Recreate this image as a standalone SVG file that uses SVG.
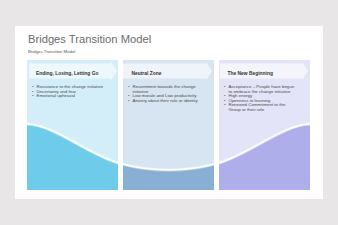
<svg xmlns="http://www.w3.org/2000/svg" width="338" height="225" viewBox="0 0 338 225">
<style>
  .title{font-family:"Liberation Sans",Arial,sans-serif;font-size:11.2px;fill:#6b6b6b}
  .sub{font-family:"Liberation Sans",Arial,sans-serif;font-size:4.3px;fill:#555}
  .hd{font-family:"Liberation Sans",Arial,sans-serif;font-size:4.9px;font-weight:bold;fill:#333}
  .bl{font-family:"Liberation Sans",Arial,sans-serif;font-size:4.4px;fill:#4a4a4a}
  .arrow{fill:#ffffff;fill-opacity:0.58}
</style>
<defs>
  <path id="wave" d="M27,124 C55,125 90,156 120,163.5 Q168.5,176.5 217,163.5 C247,156 282,125 310,124"/>
  <path id="waveFill" d="M27,124 C55,125 90,156 120,163.5 Q168.5,176.5 217,163.5 C247,156 282,125 310,124 L310,190 L27,190 Z"/>
  <clipPath id="c1"><rect x="27" y="60" width="91" height="130"/></clipPath>
  <clipPath id="c2"><rect x="123" y="60" width="91" height="130"/></clipPath>
  <clipPath id="c3"><rect x="219" y="60" width="91" height="130"/></clipPath>
</defs>
<rect width="338" height="225" fill="#e8e6e7"/>
<rect x="15" y="26" width="308" height="173" fill="#ffffff"/>
<text class="title" x="28" y="43.3">Bridges Transition Model</text>
<text class="sub" x="28" y="52.5">Bridges Transition Model</text>

<g id="panel1">
  <rect x="27" y="60" width="91" height="130" fill="#d3eef9"/>
  <use href="#waveFill" fill="#6ecbe9" clip-path="url(#c1)"/>
  <path class="arrow" d="M29,63.5 H111 V61.5 L117,71 L111,80.5 V78.5 H29 Z"/>
  <text class="hd" x="36" y="74.5">Ending, Losing, Letting Go</text>
  <text class="bl"><tspan x="32" y="88">•</tspan><tspan x="36.5" y="88">Resistance to the change initiative</tspan><tspan x="32" y="92.5">•</tspan><tspan x="36.5" y="92.5">Uncertainty and fear</tspan><tspan x="32" y="97">•</tspan><tspan x="36.5" y="97">Emotional upheaval</tspan></text>
</g>

<g id="panel2">
  <rect x="123" y="60" width="91" height="130" fill="#d7e4f1"/>
  <use href="#waveFill" fill="#89afd5" clip-path="url(#c2)"/>
  <path class="arrow" d="M123,63.5 H206 V61.5 L212,71 L206,80.5 V78.5 H123 Z"/>
  <text class="hd" x="131.5" y="74.5">Neutral Zone</text>
  <text class="bl"><tspan x="128" y="88">•</tspan><tspan x="132.5" y="88">Resentment towards the change</tspan><tspan x="132.5" y="92.5">initiative</tspan><tspan x="128" y="97">•</tspan><tspan x="132.5" y="97">Low morale and Low productivity</tspan><tspan x="128" y="101.5">•</tspan><tspan x="132.5" y="101.5">Anxiety about their role or identity</tspan></text>
</g>

<g id="panel3">
  <rect x="219" y="60" width="91" height="130" fill="#e4e4f8"/>
  <use href="#waveFill" fill="#adaeea" clip-path="url(#c3)"/>
  <path class="arrow" d="M220,63.5 H302 V61.5 L308,71 L302,80.5 V78.5 H220 Z"/>
  <text class="hd" x="227.5" y="74.5">The New Beginning</text>
  <text class="bl"><tspan x="224" y="88">•</tspan><tspan x="228.5" y="88">Acceptance – People have begun</tspan><tspan x="228.5" y="92.5">to embrace the change initiative</tspan><tspan x="224" y="97">•</tspan><tspan x="228.5" y="97">High energy</tspan><tspan x="224" y="101.5">•</tspan><tspan x="228.5" y="101.5">Openness to learning</tspan><tspan x="224" y="106">•</tspan><tspan x="228.5" y="106">Renewed Commitment to the</tspan><tspan x="228.5" y="110.5">Group or their role</tspan></text>
</g>

<g id="connectors">
  <use href="#wave" fill="none" stroke="#ffffff" stroke-opacity="0.45" stroke-width="3.2"/>
  <use href="#wave" fill="none" stroke="#ffffff" stroke-width="1.3"/>
</g>
</svg>
